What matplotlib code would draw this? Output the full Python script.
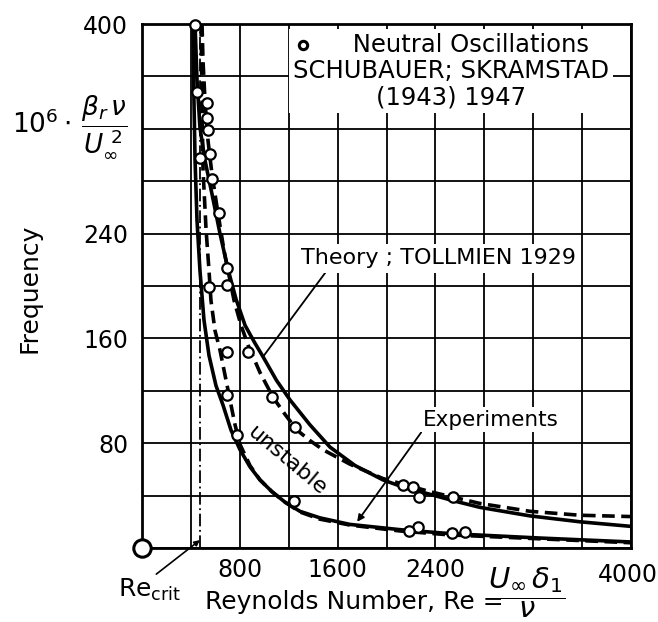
import numpy as np
import matplotlib
matplotlib.use('Agg')
import matplotlib.pyplot as plt

plt.rcParams['font.family'] = ['DejaVu Sans']
plt.rcParams['mathtext.fontset'] = 'dejavusans'

# theory (Tollmien 1929), solid
theory_up_re = [434, 450, 474, 515, 573, 638, 703, 769, 843, 920, 990, 1100, 1211, 1374, 1538, 1742, 1971,
                2150, 2356, 2550, 2765, 3174, 3583, 4000]
theory_up_f = [400, 357, 321, 296, 270, 240, 213, 190, 170, 157, 146, 128, 113, 94, 77, 63, 52,
               46, 41, 36, 31, 24.5, 20, 16.5]
theory_lo_re = [417, 425, 434, 450, 474, 507, 548, 605, 663, 728, 802, 883, 965, 1063, 1170, 1292, 1456,
                1701, 2110, 2519, 3256, 4000]
theory_lo_f = [400, 342, 296, 250, 212, 174, 147, 124, 109, 90, 75, 62, 52, 43, 35, 28, 23,
               18, 14, 11, 7.6, 4.6]

# experiments, dashed
exp_up_re = [491, 499, 515, 540, 573, 614, 671, 712, 753, 810, 867, 965, 1072, 1170, 1268, 1374, 1481,
             1701, 1971, 2356, 2765, 3174, 3583, 4000]
exp_up_f = [400, 372, 342, 311, 285, 260, 227, 208, 189, 170, 155, 134, 115, 102, 90, 82, 75,
            64, 53, 43, 34, 28, 25, 24]
exp_lo_re = [483, 491, 499, 524, 548, 564, 597, 638, 679, 720, 761, 802, 883, 965, 1063, 1170, 1292,
             1456, 1701, 2110, 2519, 3256, 4000]
exp_lo_f = [400, 342, 289, 243, 212, 189, 166, 151, 132, 113, 94, 79, 63, 52, 43, 35, 27.5,
            22, 17.5, 13, 10, 7, 4]

# neutral oscillations, Schubauer & Skramstad
pts_re = [434, 450, 532, 532, 540, 556, 474, 573, 630, 695, 695, 548, 695, 867, 695, 1063, 1250, 777, 1243,
          2137, 2217, 2266, 2544, 2258, 2184, 2536, 2642]
pts_f = [399, 348, 340, 328, 319, 301, 298, 282, 256, 214, 201, 199, 150, 150, 117, 115, 92, 86, 36,
         48, 46.5, 39, 39, 16, 13, 11.5, 12]

re_crit = 474

xticks = np.arange(0, 4001, 400)
xlabels = {800: '800', 1600: '1600', 2400: '2400'}
yticks = np.arange(0, 401, 40)
ylabels = {80: '80', 160: '160', 240: '240', 400: '400'}

fig = plt.figure(figsize=(6.58, 6.22), dpi=100)
ax = fig.add_axes([142/658, 1-548/622, 489/658, 524/622])
ax.set_xlim(0, 4000)
ax.set_ylim(0, 400)
ax.set_xticks(xticks)
ax.set_xticklabels([xlabels.get(int(v), '') for v in xticks])
ax.set_yticks(yticks)
ax.set_yticklabels([ylabels.get(int(v), '') for v in yticks])
ax.tick_params(length=0, labelsize=17)
ax.tick_params(axis='x', pad=7)
ax.tick_params(axis='y', pad=10)
ax.grid(True, color='black', linewidth=1.3)
ax.set_axisbelow(True)
for s in ax.spines.values():
    s.set_linewidth(2)

# last x label sits at the corner, pushed a little right
ax.annotate('4000', xy=(4000, 0), xytext=(-2, -11), textcoords='offset points',
            ha='center', va='top', fontsize=17, annotation_clip=False)

ax.plot([re_crit, re_crit], [0, 400], color='black', lw=1.3, ls=(0, (7, 2, 1, 2)), zorder=2)

ax.plot(theory_up_re, theory_up_f, color='black', lw=2.6, zorder=3)
ax.plot(theory_lo_re, theory_lo_f, color='black', lw=2.6, zorder=3)
ax.plot(exp_up_re, exp_up_f, color='black', lw=2.6, dashes=(3.5, 1.8), zorder=3)
ax.plot(exp_lo_re, exp_lo_f, color='black', lw=2.6, dashes=(3.5, 1.8), zorder=3)
ax.plot(pts_re, pts_f, 'o', ms=7.5, mfc='white', mec='black', mew=1.6, zorder=4, clip_on=False)

ax.plot([0], [0], 'o', ms=12.5, mfc='white', mec='black', mew=2.2, clip_on=False, zorder=10)

ax.text(2528, 364, '     Neutral Oscillations\nSCHUBAUER; SKRAMSTAD\n(1943) 1947', ha='center', va='center',
        multialignment='center', fontsize=17.5, linespacing=1.1,
        bbox=dict(fc='white', ec='none', pad=3), zorder=5)
ax.plot([1317], [384], 'o', ms=6, mfc='white', mec='black', mew=2.2, zorder=6)

ax.annotate('Theory ; TOLLMIEN 1929', xy=(990, 146), xytext=(1300, 221), fontsize=16,
            ha='left', va='center', bbox=dict(fc='white', ec='none', pad=3),
            arrowprops=dict(arrowstyle='-', lw=1.3, color='black', shrinkA=0, shrinkB=0,
                            relpos=(0.1, 0.0)), zorder=5)
ax.annotate('Experiments', xy=(1760, 20), xytext=(2300, 98), fontsize=15.5,
            ha='left', va='center', bbox=dict(fc='white', ec='none', pad=2),
            arrowprops=dict(arrowstyle='-|>', lw=1.3, color='black', shrinkA=0, shrinkB=0,
                            mutation_scale=10, relpos=(0.0, 0.0)), zorder=5)
ax.text(1186, 67, 'unstable', rotation=-40, ha='center', va='center', fontsize=16, zorder=5)

ax.annotate(r'Re$_{\mathrm{crit}}$', xy=(re_crit, 6), xycoords='data',
            xytext=(118/658, 1-590/622), textcoords='figure fraction', fontsize=18,
            ha='left', va='center', annotation_clip=False,
            arrowprops=dict(arrowstyle='-|>', lw=1.2, color='black', shrinkA=0, shrinkB=0,
                            mutation_scale=8, relpos=(0.55, 1.0)))

fig.text(205/658, 1-602/622, 'Reynolds Number, Re =', ha='left', va='center', fontsize=18)
fig.text(527/658, 1-593/622, r'$\dfrac{U_\infty\,\delta_1}{\nu}$', ha='center', va='center', fontsize=21)
fig.text(30/658, 1-288/622, 'Frequency', rotation=90, ha='center', va='center', fontsize=18)
fig.text(70/658, 1-127/622, r'$10^6\cdot\,\dfrac{\beta_r\,\nu}{U_\infty^{\ 2}}$', ha='center', va='center',
         fontsize=19)

fig.savefig('out.png', dpi=100)
